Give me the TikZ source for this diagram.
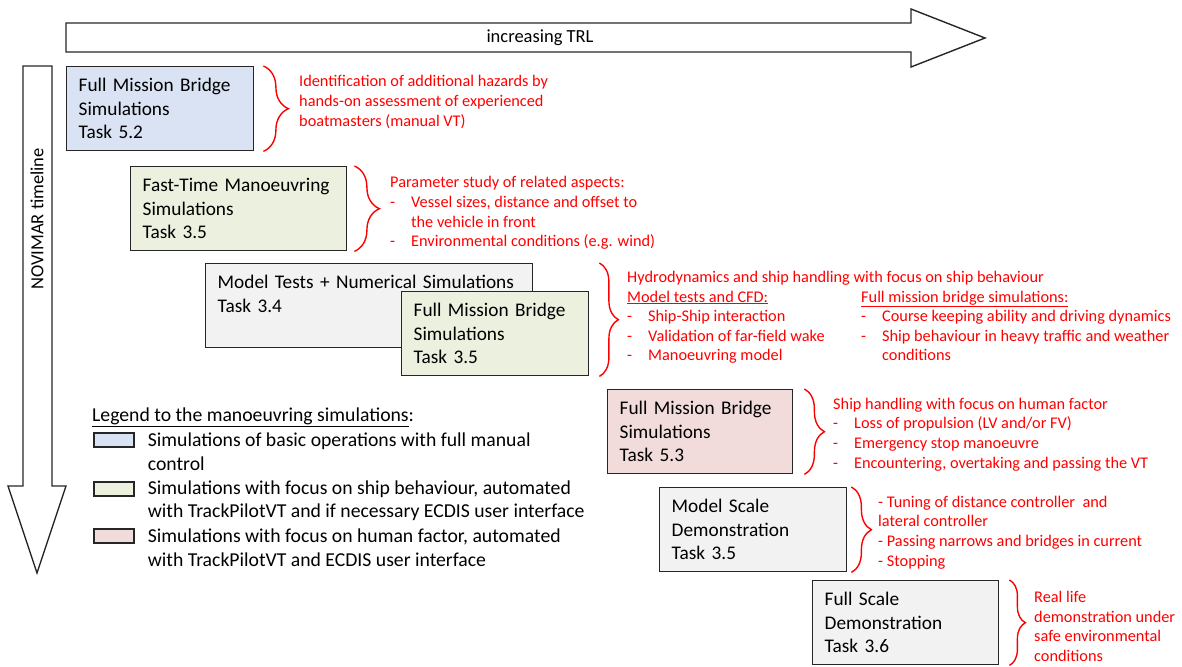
\documentclass[tikz,border=0pt]{standalone}
\usepackage{fontspec}
\setmainfont{Carlito}
\usetikzlibrary{positioning,decorations.pathreplacing}
\definecolor{Frame}{HTML}{262626}
\definecolor{Hazard}{HTML}{FF0000}
\definecolor{Manual}{HTML}{DAE3F3}
\definecolor{Behaviour}{HTML}{EBF1DE}
\definecolor{Human}{HTML}{F2DCDB}
\definecolor{Plain}{HTML}{F2F2F2}
\newcommand{\itm}[1]{\makebox[21pt][l]{-}#1}
\newcommand{\gap}{\makebox[21pt]{}}

\begin{document}
\begin{tikzpicture}[x=1pt,y=-1pt, every node/.style={font=\fontsize{19.3}{23.5}\selectfont,align=left},
task/.style={draw=Frame,line width=1.4pt,anchor=north west,minimum height=84pt,inner xsep=12pt,inner ysep=0pt},
note/.style={text=Hazard,font=\fontsize{16.3}{19.6}\selectfont,anchor=west,inner sep=0pt},
swatch/.style={draw=Frame,line width=1.4pt,minimum width=40pt,minimum height=14pt,inner sep=0pt},
legtext/.style={inner sep=0pt,font=\fontsize{19.7}{23.5}\selectfont},
curly/.style={draw=Hazard,line width=1.4pt,decorate,decoration={brace,amplitude=#1}},
curly/.default=20pt]
\useasboundingbox (0,0) rectangle (1182,666);

% the two big arrows
\draw[draw=Frame,line width=1.4pt] (66,23) -- (911,23) -- (911,9) -- (985,38) -- (911,67) -- (911,52) -- (66,52) -- cycle;
\node[font=\fontsize{18.5}{22}\selectfont] (trl) at (540,38) {increasing TRL};
\draw[draw=Frame,line width=1.4pt] (23,66) -- (52,66) -- (52,486) -- (66,486) -- (37,573) -- (8,486) -- (23,486) -- cycle;
\node[rotate=90,font=\fontsize{18.5}{22}\selectfont] (time) at (37,219) {NOVIMAR timeline};

% tasks
\node[task,fill=Manual,text width=163pt] (fmb52) at (66,66) {Full Mission Bridge\\Simulations\\Task 5.2};
\node[task,fill=Behaviour,text width=192pt] (ftm35) at (130,166) {Fast-Time Manoeuvring\\Simulations\\Task 3.5};
\node[task,fill=Plain,text width=303pt] (mt34) at (205,263) {Model Tests + Numerical Simulations\\Task 3.4\\\mbox{}};
\node[task,fill=Behaviour,text width=163pt] (fmb35) at (401,291) {Full Mission Bridge\\Simulations\\Task 3.5};
\node[task,fill=Human,text width=161pt] (fmb53) at (607,389) {Full Mission Bridge\\Simulations\\Task 5.3};
\node[task,fill=Plain,text width=163pt] (msd35) at (659,487) {Model Scale\\Demonstration\\Task 3.5};
\node[task,fill=Plain,text width=162pt] (fsd36) at (812,580) {Full Scale\\Demonstration\\Task 3.6};

% braces
\draw[curly=25pt] ([xshift=9pt]fmb52.north east) -- ([xshift=9pt]fmb52.south east);
\draw[curly=25pt] ([xshift=7pt]ftm35.north east) -- ([xshift=7pt]ftm35.south east);
\draw[curly=19pt] ([xshift=10pt]fmb35.east |- mt34.north) -- ([xshift=10pt]fmb35.south east);
\draw[curly] ([xshift=11pt]fmb53.north east) -- ([xshift=11pt]fmb53.south east);
\draw[curly] ([xshift=4pt]msd35.north east) -- ([xshift=4pt]msd35.south east);
\draw[curly=16pt] ([xshift=10pt]fsd36.north east) -- ([xshift=10pt]fsd36.south east);

% red notes
\node[note] (n52) at (299,102) {Identification of additional hazards by\\hands-on assessment of experienced\\boatmasters (manual VT)};
\node[note] (n35) at (390,213) {Parameter study of related aspects:\\\itm{Vessel sizes, distance and offset to}\\\gap the vehicle in front\\\itm{Environmental conditions (e.g. wind)}};
\node[note] (nmt) at (627,317.5) {Hydrodynamics and ship handling with focus on ship behaviour\\
\makebox[234pt][l]{\underline{Model tests and CFD:}}\underline{Full mission bridge simulations:}\\
\makebox[234pt][l]{\itm{Ship-Ship interaction}}\itm{Course keeping ability and driving dynamics}\\
\makebox[234pt][l]{\itm{Validation of far-field wake}}\itm{Ship behaviour in heavy traffic and weather}\\
\makebox[234pt][l]{\itm{Manoeuvring model}}\gap conditions};
\node[note] (n53) at (833,434.5) {Ship handling with focus on human factor\\\itm{Loss of propulsion (LV and/or FV)}\\\itm{Emergency stop manoeuvre}\\\itm{Encountering, overtaking and passing the VT}};
\node[note] (nms) at (878,532.5) {- Tuning of distance controller~ and\\lateral controller\\- Passing narrows and bridges in current\\- Stopping};
\node[note] (nfs) at (1034,626.5) {Real life\\demonstration under\\safe environmental\\conditions};

% legend
\node[legtext,anchor=base west] (legend) at (92,421) {\underline{Legend to the manoeuvring simulations}:};
\node[swatch,fill=Manual] (s1) at (114,440) {};
\node[swatch,fill=Behaviour] (s2) at (114,489) {};
\node[swatch,fill=Human] (s3) at (114,536) {};
\node[legtext,right=13pt of s1,yshift=-11.5pt] (l1) {Simulations of basic operations with full manual\\control};
\node[legtext,right=13pt of s2,yshift=-11.5pt] (l2) {Simulations with focus on ship behaviour, automated\\with TrackPilotVT and if necessary ECDIS user interface};
\node[legtext,right=13pt of s3,yshift=-11.5pt] (l3) {Simulations with focus on human factor, automated\\with TrackPilotVT and ECDIS user interface};
\end{tikzpicture}
\end{document}
